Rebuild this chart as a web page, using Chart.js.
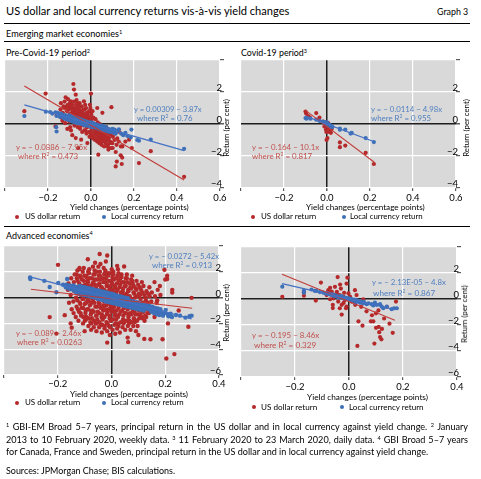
<!DOCTYPE html>
<html>
<head>
<meta charset="utf-8">
<script src="https://cdn.jsdelivr.net/npm/chart.js@4.4.1/dist/chart.umd.min.js"></script>
<style>
  body { margin: 0; background: #fff; font-family: Lato, sans-serif; color: #000; }
  #page { position: relative; width: 481px; height: 479px; overflow: hidden; }
  .t { position: absolute; white-space: nowrap; line-height: 1; transform: translateY(-50%); font-size: 10px; }
  .rot { position: absolute; white-space: nowrap; line-height: 1; font-size: 9.5px; transform: translate(-50%, -50%) rotate(-90deg); }
  .rule { position: absolute; left: 4px; width: 466px; height: 0; border-top: 1px solid #000; }
  .dot { position: absolute; width: 4px; height: 4px; border-radius: 50%; transform: translate(-50%, -50%); }
  .fn { position: absolute; left: 6px; width: 462px; white-space: nowrap; line-height: 1; transform: translateY(-50%); font-size: 9px; }
  .just { text-align: justify; text-align-last: justify; white-space: normal; }
  sup { font-size: 62%; vertical-align: 0.55em; line-height: 0; }
  .blue { color: #4f7fbf; }
  .red { color: #c0504d; }
  canvas { position: absolute; }
</style>
</head>
<body>
<div id="page">
  <div class="t" data-w="284" style="left:6px;top:11px;font-size:12px">US dollar and local currency returns vis-à-vis yield changes</div>
  <div class="t" data-w="31" style="left:437px;top:12px">Graph 3</div>
  <div class="rule" style="top:23px"></div>
  <div class="t" data-w="116" style="left:6px;top:34px">Emerging market economies<sup>1</sup></div>
  <div class="rule" style="top:41px"></div>
  <div class="t" data-w="84" style="left:6px;top:53px">Pre-Covid-19 period<sup>2</sup></div>
  <div class="t" data-w="66" style="left:241px;top:53px">Covid-19 period<sup>3</sup></div>
  <div class="rule" style="top:226px"></div>
  <div class="t" data-w="87" style="left:6px;top:236px">Advanced economies<sup>4</sup></div>

  <canvas id="c1" width="240" height="148" style="left:0;top:56px"></canvas>
  <canvas id="c2" width="240" height="148" style="left:236px;top:56px"></canvas>
  <canvas id="c3" width="240" height="150" style="left:0;top:240px"></canvas>
  <canvas id="c4" width="240" height="152" style="left:236px;top:240px"></canvas>

  <!-- regression labels -->
  <div class="t blue" data-w="68" style="left:134px;top:110px">y = 0.00309 − 3.87x</div>
  <div class="t blue" data-w="56" style="left:137px;top:119px">where R<sup>2</sup> = 0.76</div>
  <div class="t red" data-w="71" style="left:16px;top:148px">y = − 0.0886 − 7.95x</div>
  <div class="t red" data-w="60" style="left:18px;top:157px">where R<sup>2</sup> = 0.473</div>

  <div class="t blue" data-w="71" style="left:371px;top:110px">y = − 0.0114 − 4.98x</div>
  <div class="t blue" data-w="60" style="left:371px;top:119px">where R<sup>2</sup> = 0.955</div>
  <div class="t red" data-w="67" style="left:252px;top:148px">y = − 0.164 − 10.1x</div>
  <div class="t red" data-w="60" style="left:252px;top:157px">where R<sup>2</sup> = 0.817</div>

  <div class="t blue" data-w="70" style="left:149px;top:257px">y = − 0.0272 − 5.42x</div>
  <div class="t blue" data-w="60" style="left:152px;top:266px">where R<sup>2</sup> = 0.913</div>
  <div class="t red" data-w="65" style="left:16px;top:334px">y = − 0.089 − 2.46x</div>
  <div class="t red" data-w="65" style="left:17px;top:343px">where R<sup>2</sup> = 0.0263</div>

  <div class="t blue" data-w="74" style="left:372px;top:283px">y = − 2.13E-05 − 4.8x</div>
  <div class="t blue" data-w="62" style="left:373px;top:293px">where R<sup>2</sup> = 0.867</div>
  <div class="t red" data-w="67" style="left:252px;top:336px">y = − 0.195 − 8.46x</div>
  <div class="t red" data-w="62" style="left:254px;top:345px">where R<sup>2</sup> = 0.329</div>

  <!-- axis titles -->
  <div class="t" data-w="119" style="left:70px;top:207px">Yield changes (percentage points)</div>
  <div class="t" data-w="119" style="left:306px;top:207px">Yield changes (percentage points)</div>
  <div class="t" data-w="118" style="left:70px;top:394px">Yield changes (percentage points)</div>
  <div class="t" data-w="121" style="left:307px;top:397px">Yield changes (percentage points)</div>
  <div class="rot" data-w="58" style="left:227px;top:128px">Return (per cent)</div>
  <div class="rot" data-w="58" style="left:467px;top:128px">Return (per cent)</div>
  <div class="rot" data-w="58" style="left:227px;top:313px">Return (per cent)</div>
  <div class="rot" data-w="58" style="left:465px;top:314px">Return (per cent)</div>

  <!-- legends -->
  <i class="dot" style="left:17px;top:217px;background:#b5292b"></i>
  <div class="t" data-w="55" style="left:25px;top:217px">US dollar return</div>
  <i class="dot" style="left:104px;top:217px;background:#3d70b8"></i>
  <div class="t" data-w="73" style="left:111px;top:217px">Local currency return</div>

  <i class="dot" style="left:253px;top:217px;background:#b5292b"></i>
  <div class="t" data-w="55" style="left:261px;top:217px">US dollar return</div>
  <i class="dot" style="left:344px;top:217px;background:#3d70b8"></i>
  <div class="t" data-w="73" style="left:350px;top:217px">Local currency return</div>

  <i class="dot" style="left:17px;top:403px;background:#b5292b"></i>
  <div class="t" data-w="55" style="left:25px;top:403px">US dollar return</div>
  <i class="dot" style="left:104px;top:403px;background:#3d70b8"></i>
  <div class="t" data-w="73" style="left:111px;top:403px">Local currency return</div>

  <i class="dot" style="left:254px;top:407px;background:#b5292b"></i>
  <div class="t" data-w="56" style="left:261px;top:407px">US dollar return</div>
  <i class="dot" style="left:342px;top:407px;background:#3d70b8"></i>
  <div class="t" data-w="75" style="left:349px;top:407px">Local currency return</div>

  <!-- footnotes -->
  <div class="fn just" style="top:427px"><sup>1</sup> GBI-EM Broad 5–7 years, principal return in the US dollar and in local currency against yield change. <sup>2</sup> January</div>
  <div class="fn just" style="top:440px">2013 to 10 February 2020, weekly data. <sup>3</sup> 11 February 2020 to 23 March 2020, daily data. <sup>4</sup> GBI Broad 5–7 years</div>
  <div class="fn" id="fn3" data-w="422" style="top:452px;width:auto">for Canada, France and Sweden, principal return in the US dollar and in local currency against yield change.</div>
  <div class="fn" data-w="169" style="top:471px;width:auto">Sources: JPMorgan Chase; BIS calculations.</div>
</div>

<script>
// Emerging markets, pre-Covid-19 (weekly), [yield change, return]
const emPreUsd = [
  [-0.31,0.8],[-0.211,1.9],[-0.118,1.67],[-0.082,2.5],[-0.079,2.15],[-0.071,1.83],[0.0,1.9],[0.095,1.05],
  [0.053,0.7],[0.029,1.0],[-0.113,1.1],[-0.094,1.42],[-0.033,1.42],[-0.005,1.2],[-0.11,-0.31],[-0.087,-0.7],
  [-0.071,-0.88],[-0.046,-0.98],[-0.06,-1.5],[-0.017,-1.19],[0.034,-1.92],[0.045,-1.19],[0.06,-0.88],[0.077,-1.4],
  [0.092,-1.5],[0.115,-1.75],[0.138,-1.96],[0.145,-2.1],[0.143,-2.5],[0.115,-2.65],[0.19,-1.5],[0.223,-2.44],
  [0.278,-1.7],[0.433,-3.3],[0.177,-0.98],[0.146,-1.4],[0.092,-0.67],[-0.165,-0.15],[-0.16,0.55],[0.12,-2.35],[0.16,-1.1],
  [-0.142,0.9],[-0.138,0.4],[-0.14,1.3],[-0.131,0.7],[-0.128,1.1],[-0.133,0.2],
  [-0.121,1.0],[-0.118,0.5],[-0.123,1.4],[-0.12,0.05],[-0.111,0.8],[-0.108,1.2],[-0.112,0.3],[-0.107,1.55],
  [-0.1,0.6],[-0.103,1.0],[-0.098,1.3],[-0.101,0.15],[-0.097,-0.2],
  [-0.091,0.4],[-0.088,0.9],[-0.092,1.2],[-0.089,0.7],[-0.093,-0.4],
  [-0.081,0.2],[-0.078,0.6],[-0.082,1.0],[-0.079,1.4],[-0.083,0.8],[-0.077,-0.1],
  [-0.071,0.0],[-0.068,0.5],[-0.072,0.9],[-0.069,1.2],[-0.073,0.3],[-0.067,1.5],
  [-0.061,-0.2],[-0.058,0.3],[-0.062,0.7],[-0.059,1.1],[-0.063,0.5],[-0.057,0.9],
  [-0.051,-0.3],[-0.048,0.1],[-0.052,0.5],[-0.049,0.8],[-0.053,1.3],[-0.047,0.3],
  [-0.041,-0.5],[-0.038,0.0],[-0.042,0.4],[-0.039,0.7],[-0.043,1.1],[-0.037,0.2],
  [-0.031,-0.4],[-0.028,0.2],[-0.032,0.6],[-0.029,0.9],[-0.033,-0.1],[-0.027,1.2],
  [-0.021,-0.6],[-0.018,-0.2],[-0.022,0.3],[-0.019,0.7],[-0.023,1.0],[-0.017,0.1],
  [-0.011,-0.5],[-0.008,-0.1],[-0.012,0.4],[-0.009,0.8],[-0.013,0.0],[-0.007,-0.8],
  [-0.001,-0.7],[0.002,-0.3],[-0.002,0.2],[0.001,0.6],[0.003,-0.1],[-0.003,1.0],
  [0.009,-0.9],[0.012,-0.5],[0.008,0.0],[0.011,0.4],[0.013,-0.2],[0.007,0.8],
  [0.019,-1.0],[0.022,-0.6],[0.018,-0.2],[0.021,0.3],[0.023,-0.4],
  [0.029,-1.1],[0.032,-0.7],[0.028,-0.3],[0.031,0.1],[0.033,-0.9],
  [0.039,-1.2],[0.042,-0.8],[0.038,-0.5],[0.041,0.0],[0.043,-0.3],
  [0.049,-1.3],[0.052,-0.9],[0.048,-0.6],[0.051,-0.2],[0.053,-1.1],
  [0.059,-1.0],[0.062,-0.7],[0.058,-0.3],[0.061,-1.4],
  [0.069,-1.2],[0.072,-0.8],[0.068,-0.5],[0.071,-0.2],
  [0.079,-1.3],[0.082,-0.9],[0.078,-0.6],[0.081,-1.6],
  [0.089,-1.1],[0.092,-0.7],[0.088,-0.4],
  [0.099,-1.2],[0.102,-0.8],[0.098,-0.5],[0.101,-1.5],
  [0.109,-1.0],[0.112,-0.6],[0.119,-1.3],[0.122,-0.9],[0.129,-1.1],[0.132,-0.5],[0.139,-1.4],
  [-0.105,0.4],[-0.104,0.9],[-0.095,0.6],[-0.096,1.1],[-0.085,0.4],[-0.086,1.2],[-0.075,0.7],[-0.074,1.0],
  [-0.065,0.1],[-0.066,0.9],[-0.064,1.3],[-0.055,0.6],[-0.056,1.0],[-0.045,0.6],[-0.046,-0.1],[-0.035,0.5],
  [-0.036,0.9],[-0.025,0.4],[-0.026,-0.4],[-0.015,0.2],[-0.016,0.6],[-0.005,-0.5],[-0.006,0.4],[0.005,-0.7],
  [0.004,0.3],[0.015,-0.8],[0.016,-0.3],[0.025,-0.5],[0.026,-0.9],[0.035,-0.5],[0.036,-1.0],[0.045,-0.7],
  [0.046,-1.0],[0.055,-0.5],[0.056,-0.8],[0.065,-1.1],[0.066,-0.6],[0.075,-1.0],[0.085,-0.8],[0.086,-1.2]
];
const emPreLocal = [
  [-0.31,0.5],[-0.21,0.77],[-0.165,0.73],[-0.162,-0.2],[-0.16,-0.47],[0.13,-0.33],[0.169,-0.75],[0.185,-0.83],
  [0.188,-0.35],[0.215,-1.0],[0.223,-1.04],[0.278,-0.97],[0.433,-1.55],[0.15,-0.7],[0.16,-0.55],[0.14,-0.6],
  [-0.19,0.75],[-0.18,0.65],
  [-0.16,0.5],[-0.155,0.7],[-0.15,0.55],[-0.145,0.45],[-0.14,0.65],[-0.135,0.6],[-0.13,0.4],[-0.13,0.5],
  [-0.125,0.35],[-0.12,0.55],[-0.12,0.45],[-0.115,0.3],[-0.11,0.5],[-0.11,0.4],[-0.105,0.25],[-0.1,0.45],
  [-0.1,0.35],[-0.1,0.55],[-0.095,0.2],[-0.09,0.4],[-0.09,0.3],[-0.09,0.5],[-0.085,0.15],[-0.08,0.35],
  [-0.08,0.25],[-0.08,0.45],[-0.075,0.1],[-0.07,0.3],[-0.07,0.2],[-0.07,0.4],[-0.065,0.05],[-0.06,0.25],
  [-0.06,0.15],[-0.06,0.35],[-0.055,0.05],[-0.05,0.2],[-0.05,0.3],[-0.05,0.1],[-0.045,0.0],[-0.04,0.15],
  [-0.04,0.25],[-0.04,0.05],[-0.035,-0.05],[-0.03,0.1],[-0.03,0.2],[-0.03,0.05],[-0.025,-0.1],[-0.02,0.05],
  [-0.02,0.15],[-0.02,0.0],[-0.015,-0.1],[-0.01,0.0],[-0.01,0.1],[-0.01,0.05],[-0.005,-0.15],[0.0,-0.05],
  [0.0,0.05],[0.0,0.1],[0.005,-0.2],[0.01,-0.1],[0.01,0.0],[0.01,0.05],[0.015,-0.2],[0.02,-0.1],
  [0.02,0.0],[0.025,-0.25],[0.03,-0.15],[0.03,-0.05],[0.035,-0.3],[0.04,-0.2],[0.04,-0.1],[0.045,-0.35],
  [0.05,-0.2],[0.05,-0.1],[0.055,-0.4],[0.06,-0.25],[0.06,-0.15],[0.065,-0.4],[0.07,-0.3],[0.07,-0.2],
  [0.075,-0.45],[0.08,-0.3],[0.085,-0.5],[0.09,-0.35],[0.095,-0.5],[0.1,-0.3],[0.105,-0.55],[0.11,-0.35],
  [0.115,-0.6],[0.12,-0.45]
];
const emPreUsdFit = [[-0.31, 2.37], [0.433, -3.5]];
const emPreLocalFit = [[-0.31, 1.19], [0.433, -1.67]];

// Emerging markets, Covid-19 (daily)
const emCovUsd = [
  [-0.1,0.78],[-0.097,0.65],[-0.088,0.5],[-0.08,0.42],[-0.05,0.68],[-0.035,0.4],[-0.017,0.15],[-0.005,0.12],
  [-0.012,-0.15],[-0.005,-0.35],[0.002,-0.2],[0.014,-0.35],[0.022,-0.3],[-0.003,-0.5],[0.01,-0.5],[0.018,-0.55],
  [0.002,-0.88],[-0.002,-1.0],[0.006,0.05],[0.012,-0.1],[0.06,-1.15],[0.06,-1.45],[0.085,-1.35],[0.18,-1.8],[0.218,-2.5]
];
const emCovLocal = [
  [-0.1,0.37],[-0.095,0.33],[-0.077,0.33],[-0.05,0.27],[-0.035,0.2],[-0.02,0.15],[-0.01,0.12],[-0.005,0.05],
  [0.0,0.1],[0.0,-0.02],[0.005,0.0],[0.008,-0.08],[0.012,-0.05],[0.015,-0.15],[0.003,-0.1],[-0.008,0.0],
  [0.018,-0.1],[0.02,-0.2],[0.025,-0.18],[0.06,-0.28],[0.06,-0.36],[0.085,-0.35],[0.115,-0.56],[0.11,-0.6],
  [0.18,-0.88],[0.218,-1.13]
];
const emCovUsdFit = [[-0.1, 0.85], [0.22, -2.39]];
const emCovLocalFit = [[-0.1, 0.49], [0.22, -1.11]];

// Advanced economies, pre-Covid-19 (weekly)
const aePreUsd = [
  [-0.199,2.54],[-0.23,-1.51],[-0.205,-2.79],[-0.152,-2.0],[-0.174,-1.36],[-0.148,-2.33],[0.207,1.69],[0.207,1.44],
  [0.226,0.6],[0.226,0.4],[0.298,-0.02],[0.286,-2.26],[0.234,-4.38],[0.204,-4.72],[0.19,-3.23],[0.145,-3.23],
  [0.122,-3.2],[0.06,-3.1],[0.062,-3.45],[-0.016,-3.49],[-0.088,2.97],[-0.044,3.38],[-0.016,3.26],[0.021,2.46],
  [0.047,2.41],[0.197,2.15],[0.2,1.4],[0.18,0.9],[0.17,-0.2],[0.16,1.2],[0.25,-1.0],[0.21,-2.0],[0.1,-2.9],
  [-0.1,-2.6],[-0.12,2.2],[-0.13,1.8],
  [-0.162,0.6],[-0.158,-0.4],[-0.16,1.1],
  [-0.152,0.2],[-0.148,-0.9],[-0.15,1.5],[-0.153,0.9],
  [-0.142,-0.3],[-0.138,0.5],[-0.14,1.2],[-0.141,-1.2],[-0.137,1.8],
  [-0.132,0.0],[-0.128,0.8],[-0.13,-0.7],[-0.129,1.5],[-0.133,-1.5],[-0.127,2.1],
  [-0.122,0.3],[-0.118,-0.4],[-0.12,1.1],[-0.121,-1.1],[-0.117,1.7],[-0.123,-1.8],[-0.119,2.3],
  [-0.112,0.6],[-0.108,-0.1],[-0.11,1.4],[-0.111,-0.8],[-0.107,2.0],[-0.113,-1.4],[-0.109,0.9],[-0.106,-2.0],
  [-0.102,0.2],[-0.098,1.0],[-0.1,-0.5],[-0.101,1.7],[-0.097,-1.2],[-0.103,2.3],[-0.099,-1.8],[-0.104,0.5],
  [-0.092,0.5],[-0.088,-0.2],[-0.09,1.3],[-0.091,-0.9],[-0.087,2.0],[-0.093,-1.5],[-0.089,0.9],[-0.086,-2.2],[-0.094,1.6],
  [-0.082,0.1],[-0.078,0.8],[-0.08,-0.6],[-0.081,1.5],[-0.077,-1.3],[-0.083,2.2],[-0.079,-1.9],[-0.084,0.4],[-0.076,-2.5],
  [-0.072,0.4],[-0.068,-0.3],[-0.07,1.1],[-0.071,-1.0],[-0.067,1.8],[-0.073,-1.6],[-0.069,2.4],[-0.074,0.7],[-0.066,-2.3],[-0.072,-0.05],
  [-0.062,0.0],[-0.058,0.7],[-0.06,-0.7],[-0.061,1.4],[-0.057,-1.4],[-0.063,2.1],[-0.059,-2.0],[-0.064,1.0],[-0.056,-2.6],[-0.061,2.7],
  [-0.052,0.3],[-0.048,-0.4],[-0.05,1.0],[-0.051,-1.1],[-0.047,1.7],[-0.053,-1.7],[-0.049,2.4],[-0.054,0.6],[-0.046,-2.3],[-0.05,-0.1],
  [-0.042,0.0],[-0.038,0.8],[-0.04,-0.8],[-0.041,1.4],[-0.037,-1.5],[-0.043,2.0],[-0.039,-2.1],[-0.044,1.1],[-0.036,-2.7],[-0.041,2.6],
  [-0.032,0.4],[-0.028,-0.3],[-0.03,1.2],[-0.031,-1.0],[-0.027,1.8],[-0.033,-1.7],[-0.029,2.3],[-0.034,0.7],[-0.026,-2.4],[-0.03,-0.6],
  [-0.022,0.1],[-0.018,0.9],[-0.02,-0.6],[-0.021,1.5],[-0.017,-1.3],[-0.023,2.1],[-0.019,-1.9],[-0.024,0.5],[-0.016,-2.6],[-0.021,2.8],
  [-0.012,-0.2],[-0.008,0.6],[-0.01,-0.9],[-0.011,1.3],[-0.007,-1.6],[-0.013,1.9],[-0.009,-2.2],[-0.014,0.9],[-0.006,-2.9],[-0.011,0.2],
  [-0.002,0.3],[0.002,-0.4],[0.0,1.0],[-0.001,-1.1],[0.003,1.6],[-0.003,-1.8],[0.001,2.2],[-0.004,0.6],[0.004,-2.5],[0.0,-0.8],
  [0.008,0.0],[0.012,0.8],[0.01,-0.7],[0.009,1.4],[0.013,-1.4],[0.007,2.0],[0.011,-2.1],[0.006,0.4],[0.014,-2.8],[0.01,-1.1],
  [0.018,0.4],[0.022,-0.3],[0.02,1.1],[0.019,-1.0],[0.023,1.7],[0.017,-1.7],[0.021,-2.4],[0.016,0.7],[0.024,2.2],
  [0.028,0.1],[0.032,-0.6],[0.03,0.8],[0.029,-1.3],[0.033,1.5],[0.027,-2.0],[0.031,-2.7],[0.026,1.9],[0.034,-0.2],
  [0.038,-0.3],[0.042,0.5],[0.04,-1.0],[0.039,1.2],[0.043,-1.7],[0.037,1.8],[0.041,-2.3],[0.036,0.2],[0.044,-0.6],
  [0.048,0.2],[0.052,-0.5],[0.05,0.9],[0.049,-1.2],[0.053,1.5],[0.047,-1.9],[0.051,-2.5],[0.046,-0.1],
  [0.058,-0.2],[0.062,0.6],[0.06,-0.9],[0.059,1.2],[0.063,-1.5],[0.057,1.8],[0.061,-2.2],[0.056,0.3],
  [0.068,0.1],[0.072,-0.6],[0.07,0.8],[0.069,-1.2],[0.073,1.4],[0.067,-1.8],[0.071,-2.5],[0.066,-0.3],
  [0.078,-0.3],[0.082,0.4],[0.08,-1.0],[0.079,1.1],[0.083,-1.6],[0.077,1.7],[0.081,-2.2],
  [0.088,0.0],[0.092,-0.7],[0.09,0.7],[0.089,-1.3],[0.093,1.3],[0.087,-1.9],[0.091,-2.6],
  [0.098,-0.4],[0.102,0.3],[0.1,-1.0],[0.099,1.0],[0.103,-1.6],[0.097,-2.2],
  [0.108,-0.1],[0.112,-0.8],[0.11,0.6],[0.109,-1.4],[0.113,1.2],
  [0.118,-0.5],[0.122,0.2],[0.12,-1.1],[0.119,0.9],[0.123,-1.8],
  [0.128,-0.2],[0.132,-0.9],[0.13,0.5],[0.129,-1.5],
  [0.138,-0.6],[0.142,0.1],[0.14,-1.2],[0.141,0.8],
  [0.148,-0.3],[0.152,-1.0],[0.15,0.4],[0.158,-0.8],[0.162,0.1],[0.16,-1.5],
  [0.168,-0.4],[0.172,0.6],[0.178,-1.1],[0.182,0.2],
  [-0.125,-0.9],[-0.127,-0.2],[-0.124,0.5],[-0.126,1.3],
  [-0.115,-1.2],[-0.116,-0.5],[-0.114,0.2],[-0.117,0.9],[-0.115,1.6],
  [-0.105,-1.5],[-0.106,-0.8],[-0.104,-0.1],[-0.105,0.7],[-0.103,1.3],
  [-0.095,-1.7],[-0.096,-1.0],[-0.094,-0.4],[-0.095,0.3],[-0.097,1.0],[-0.093,1.7],
  [-0.085,-1.6],[-0.086,-0.9],[-0.084,-0.3],[-0.085,0.5],[-0.087,1.2],[-0.083,1.9],
  [-0.075,-2.0],[-0.076,-1.1],[-0.074,-0.4],[-0.075,0.2],[-0.077,0.9],[-0.073,1.5],
  [-0.065,-1.8],[-0.066,-1.1],[-0.064,-0.4],[-0.065,0.4],[-0.067,1.2],[-0.063,1.8],
  [-0.055,-2.0],[-0.056,-1.4],[-0.054,-0.7],[-0.055,0.0],[-0.057,0.7],[-0.053,1.4],[-0.055,2.0],
  [-0.045,-1.9],[-0.046,-1.2],[-0.044,-0.5],[-0.045,0.3],[-0.047,1.0],[-0.043,1.7],
  [-0.035,-2.1],[-0.036,-1.3],[-0.034,-0.8],[-0.035,0.0],[-0.037,0.8],[-0.033,1.5],
  [-0.025,-2.2],[-0.026,-1.5],[-0.024,-0.9],[-0.025,-0.2],[-0.027,0.6],[-0.023,1.2],[-0.025,1.9],
  [-0.015,-2.0],[-0.016,-1.1],[-0.014,-0.4],[-0.015,0.4],[-0.017,1.0],[-0.013,1.7],
  [-0.005,-2.3],[-0.006,-1.4],[-0.004,-0.6],[-0.005,0.0],[-0.007,0.8],[-0.003,1.3],[-0.005,1.9],
  [0.005,-1.7],[0.004,-0.9],[0.006,-0.2],[0.005,0.6],[0.003,1.1],[0.007,1.8],
  [0.015,-2.0],[0.014,-1.3],[0.016,-0.5],[0.015,0.1],[0.013,0.9],[0.017,1.5],
  [0.025,-2.2],[0.024,-1.5],[0.026,-0.8],[0.025,-0.1],[0.023,0.6],[0.027,1.3],
  [0.035,-1.9],[0.034,-1.1],[0.036,-0.4],[0.035,0.4],[0.033,1.0],[0.037,1.6],
  [0.045,-2.0],[0.044,-1.4],[0.046,-0.8],[0.045,0.0],[0.043,0.7],[0.047,1.2],
  [0.055,-1.8],[0.054,-1.2],[0.056,-0.5],[0.055,0.2],[0.053,0.9],[0.057,1.5],
  [0.065,-2.0],[0.064,-1.4],[0.066,-0.7],[0.065,0.0],[0.063,0.5],[0.067,1.1],
  [0.075,-1.9],[0.074,-1.3],[0.076,-0.8],[0.075,-0.1],[0.073,0.7],[0.077,1.3],
  [0.085,-1.7],[0.084,-1.1],[0.086,-0.5],[0.085,0.3],[0.083,0.9],
  [0.095,-1.8],[0.094,-1.3],[0.096,-0.7],[0.095,0.1],[0.093,0.6],
  [0.105,-1.3],[0.104,-0.6],[0.106,0.2],[0.105,0.8],
  [0.115,-1.6],[0.114,-1.1],[0.116,-0.4],[0.115,0.4],
  [0.125,-1.4],[0.124,-0.8],[0.126,0.0],[0.135,-1.2],[0.134,-0.4],[0.136,0.3]
];
const aePreLocal = [
  [-0.303,1.56],[-0.302,1.44],[-0.23,0.82],[-0.205,0.41],[-0.198,1.13],[-0.165,1.44],[-0.18,1.0],[-0.25,1.3],
  [-0.17,0.8],[-0.168,1.0],[-0.16,0.7],[-0.158,0.95],[-0.162,0.85],[-0.15,0.65],[-0.148,0.9],[-0.152,0.75],
  [-0.14,0.55],[-0.138,0.85],[-0.142,0.7],[-0.141,0.95],[-0.13,0.5],[-0.128,0.8],[-0.132,0.65],[-0.131,0.35],
  [-0.12,0.45],[-0.118,0.75],[-0.122,0.6],[-0.121,0.3],[-0.119,0.9],[-0.11,0.4],[-0.108,0.7],[-0.112,0.55],
  [-0.111,0.25],[-0.109,0.85],[-0.1,0.35],[-0.098,0.65],[-0.102,0.5],[-0.101,0.2],[-0.099,0.8],
  [-0.09,0.3],[-0.088,0.6],[-0.092,0.45],[-0.091,0.15],[-0.089,0.75],[-0.08,0.25],[-0.078,0.55],[-0.082,0.4],
  [-0.081,0.1],[-0.079,0.7],[-0.07,0.2],[-0.068,0.5],[-0.072,0.35],[-0.071,0.05],[-0.069,0.65],
  [-0.06,0.15],[-0.058,0.45],[-0.062,0.3],[-0.061,0.0],[-0.059,0.6],[-0.05,0.1],[-0.048,0.4],[-0.052,0.25],
  [-0.051,-0.1],[-0.049,0.55],[-0.04,0.05],[-0.038,0.35],[-0.042,0.2],[-0.041,-0.15],[-0.039,0.5],
  [-0.03,0.0],[-0.028,0.3],[-0.032,0.15],[-0.031,-0.2],[-0.029,0.45],[-0.02,-0.05],[-0.018,0.25],[-0.022,0.1],
  [-0.021,-0.3],[-0.019,0.4],[-0.01,-0.1],[-0.008,0.2],[-0.012,0.05],[-0.011,-0.35],[-0.009,0.35],
  [0.0,-0.15],[0.002,0.15],[-0.002,0.0],[-0.001,-0.4],[0.001,0.3],[0.01,-0.2],[0.012,0.1],[0.008,-0.05],
  [0.009,-0.45],[0.011,0.25],[0.02,-0.3],[0.022,0.0],[0.018,-0.15],[0.019,-0.5],[0.021,0.15],
  [0.03,-0.35],[0.032,-0.05],[0.028,-0.2],[0.029,-0.55],[0.031,0.1],[0.04,-0.4],[0.042,-0.1],[0.038,-0.25],
  [0.039,-0.6],[0.041,0.05],[0.05,-0.45],[0.052,-0.15],[0.048,-0.3],[0.049,-0.65],[0.051,0.0],
  [0.06,-0.5],[0.062,-0.2],[0.058,-0.35],[0.059,-0.7],[0.061,-0.05],[0.07,-0.55],[0.072,-0.25],[0.068,-0.4],
  [0.069,-0.75],[0.08,-0.6],[0.082,-0.3],[0.078,-0.45],[0.079,-0.8],[0.09,-0.65],[0.092,-0.35],[0.088,-0.5],
  [0.089,-0.85],[0.1,-0.7],[0.102,-0.4],[0.098,-0.55],[0.099,-0.9],[0.11,-0.75],[0.112,-0.5],[0.108,-0.6],
  [0.109,-0.95],[0.12,-0.8],[0.122,-0.55],[0.118,-0.7],[0.119,-1.0],[0.13,-0.85],[0.132,-0.6],[0.128,-0.75],
  [0.14,-0.9],[0.142,-0.65],[0.138,-0.8],[0.15,-0.95],[0.152,-0.7],[0.148,-1.1],[0.16,-1.0],[0.162,-0.8],
  [0.158,-1.2],[0.17,-1.05],[0.172,-0.85],[0.168,-1.3],[0.18,-1.1],[0.182,-0.9],[0.178,-1.35],
  [0.19,-1.15],[0.192,-1.4],[0.2,-1.2],[0.202,-0.95],[0.21,-1.3],[0.212,-1.45],[0.22,-1.25],[0.225,-1.5],
  [0.24,-1.35],[0.255,-1.4],[0.275,-1.55],[0.29,-1.45],[0.298,-1.4]
];
const aePreUsdFit = [[-0.3, 0.65], [0.3, -0.83]];
const aePreLocalFit = [[-0.303, 1.6], [0.298, -1.64]];

// Advanced economies, Covid-19 (daily)
const aeCovUsd = [
  [-0.247,0.17],[-0.167,0.52],[-0.167,0.25],[-0.123,-0.12],[-0.104,1.26],[-0.07,0.86],[-0.07,-0.02],[-0.06,-0.45],
  [-0.06,-0.7],[-0.042,1.69],[-0.033,1.11],[-0.03,0.8],[-0.045,0.55],[-0.009,1.19],[-0.006,1.64],[-0.027,-1.2],
  [-0.02,-0.3],[-0.011,-0.71],[0.022,0.68],[0.028,0.3],[0.035,-1.72],[0.031,-3.61],[0.053,-0.02],[0.05,-2.05],
  [0.081,-1.72],[0.09,-1.72],[0.094,-3.43],[0.1,-2.22],[0.11,-2.15],[0.112,-2.55],[0.115,-2.93],[0.12,-3.1],
  [0.122,-2.3],[0.162,-2.6],[0.174,-0.2],[0.109,-0.88],[0.1,-1.1],
  [-0.046,0.43],[-0.034,0.3],[-0.021,0.18],[-0.015,-0.08],[-0.002,0.43],[0.004,0.18],[0.01,-0.2],[-0.027,-0.45],
  [-0.009,-0.58],[-0.034,-0.71],[-0.04,-0.2],[0.017,-0.08],[0.023,-0.45],[-0.018,0.48],[-0.058,0.05],[-0.064,0.56],
  [-0.052,0.94],[-0.077,0.68],[-0.083,0.3],[0.045,-0.6],[0.065,-0.95],[0.085,-1.25],[0.14,-0.6],[0.13,-1.5],[0.15,-1.9]
];
const aeCovLocal = [
  [-0.247,0.95],[-0.167,0.48],[-0.167,0.65],[-0.139,0.73],[-0.127,0.63],[-0.108,0.53],[-0.094,0.48],[-0.081,0.43],
  [-0.069,0.35],[-0.057,0.3],[-0.12,0.62],[-0.095,0.5],[-0.085,0.42],[-0.075,0.38],[-0.065,0.3],[-0.06,0.35],
  [-0.055,0.22],[-0.05,0.28],[-0.045,0.2],[-0.04,0.12],[-0.035,0.2],[-0.03,0.1],[-0.025,0.15],[-0.02,0.05],
  [-0.015,0.1],[-0.01,0.0],[-0.005,0.05],[0.0,-0.05],[0.0,0.05],[0.005,-0.05],[0.01,-0.1],[0.01,0.0],
  [0.015,-0.1],[0.02,-0.15],[0.02,-0.05],[0.025,-0.1],[0.03,-0.2],[0.035,-0.15],[0.04,-0.25],[0.045,-0.2],
  [0.05,-0.3],[0.055,-0.2],[0.022,-0.2],[0.028,-0.08],[-0.012,0.08],[-0.028,0.22],[0.023,-0.3],
  [0.041,-0.28],[0.053,-0.33],[0.072,-0.33],[0.084,-0.4],[0.096,-0.28],[0.102,-0.45],[0.115,-0.4],[0.121,-0.58],
  [0.127,-0.71],[0.14,-0.58],[0.158,-0.78],[0.167,-0.71],[0.177,-0.71],[0.065,-0.4],[0.09,-0.5]
];
const aeCovUsdFit = [[-0.248, 1.9], [0.17, -1.63]];
const aeCovLocalFit = [[-0.248, 1.19], [0.17, -0.82]];

const RED = '#b5292b';
const BLUE = '#3d70b8';
const RED_LINE = '#c23b38';
const BLUE_LINE = '#4472c4';
const TICK_FONT = { family: 'Lato', size: 9.5 };

const plotBg = {
  id: 'plotBg',
  beforeDraw(chart) {
    const { ctx, chartArea: a } = chart;
    ctx.save();
    ctx.fillStyle = '#d9d9d9';
    ctx.fillRect(a.left, a.top, a.right - a.left, a.bottom - a.top);
    ctx.restore();
  }
};

function pts(arr) {
  return arr.map(p => ({ x: p[0], y: p[1] }));
}

function isZero(v) {
  return Math.abs(v) < 1e-9;
}

function gridColor(c) {
  return c.tick && isZero(c.tick.value) ? '#1e1e1e' : '#ffffff';
}

function gridWidth(c) {
  return c.tick && isZero(c.tick.value) ? 1.5 : 1.2;
}

function makePanel(id, box, area, xr, yr, usd, local, usdFit, localFit, xPad, dotR) {
  new Chart(document.getElementById(id), {
    type: 'scatter',
    data: {
      datasets: [
        { label: 'US dollar return', data: pts(usd), backgroundColor: RED, pointRadius: dotR, borderWidth: 0, order: 3 },
        { label: 'Local currency return', data: pts(local), backgroundColor: BLUE, pointRadius: dotR, borderWidth: 0, order: 2 },
        { data: pts(usdFit), showLine: true, borderColor: RED_LINE, borderWidth: 1.1, pointRadius: 0, order: 1 },
        { data: pts(localFit), showLine: true, borderColor: BLUE_LINE, borderWidth: 1.3, pointRadius: 0, order: 0 }
      ]
    },
    options: {
      responsive: false,
      animation: false,
      events: [],
      layout: { padding: { left: area.left - box.left, top: area.top - box.top, right: 0, bottom: 0 } },
      plugins: { legend: { display: false }, tooltip: { enabled: false } },
      scales: {
        x: {
          type: 'linear',
          min: xr[0],
          max: xr[1],
          border: { display: false },
          grid: { color: gridColor, lineWidth: gridWidth, tickColor: '#5a5a5a', tickLength: 3 },
          ticks: {
            stepSize: 0.2,
            padding: xPad,
            color: '#000',
            font: TICK_FONT,
            maxRotation: 0,
            callback: v => {
              if (Math.abs(v - xr[0]) < 1e-9) return '';
              const s = Math.abs(v).toFixed(1);
              return v < -1e-9 ? '\u2212' + s : s;
            }
          },
          afterFit: s => {
            s.height = box.top + box.h - area.bottom;
            s.paddingLeft = 0;
            s.paddingRight = 0;
          }
        },
        y: {
          type: 'linear',
          position: 'right',
          min: yr[0],
          max: yr[1],
          border: { display: false },
          grid: { color: gridColor, lineWidth: gridWidth, tickColor: '#5a5a5a', tickLength: 4 },
          ticks: {
            stepSize: 2,
            mirror: true,
            padding: 2,
            labelOffset: -4,
            color: '#000',
            font: TICK_FONT,
            callback: v => {
              if (v === yr[1]) return '';
              return v < 0 ? '\u2212' + Math.abs(v) : String(v);
            }
          },
          afterFit: s => {
            s.width = box.left + box.w - area.right;
            s.paddingTop = 0;
            s.paddingBottom = 0;
          }
        }
      }
    },
    plugins: [plotBg]
  });
}

makePanel('c1', { left: 0, top: 56, w: 240, h: 148 }, { left: 5, top: 60, right: 220, bottom: 188 },
  [-0.4, 0.6], [-4, 4], emPreUsd, emPreLocal, emPreUsdFit, emPreLocalFit, 1, 2.1);
makePanel('c2', { left: 236, top: 56, w: 240, h: 148 }, { left: 241, top: 60, right: 456, bottom: 188 },
  [-0.4, 0.6], [-4, 4], emCovUsd, emCovLocal, emCovUsdFit, emCovLocalFit, 1, 2.1);
makePanel('c3', { left: 0, top: 240, w: 240, h: 150 }, { left: 4, top: 246, right: 219, bottom: 375 },
  [-0.4, 0.4], [-6, 4], aePreUsd, aePreLocal, aePreUsdFit, aePreLocalFit, 0, 2.2);
makePanel('c4', { left: 236, top: 240, w: 240, h: 152 }, { left: 241, top: 247, right: 457, bottom: 377 },
  [-0.4, 0.4], [-6, 4], aeCovUsd, aeCovLocal, aeCovUsdFit, aeCovLocalFit, 1, 2.1);

// size the text to the widths it has in the original
function fitText() {
  document.querySelectorAll('[data-w]').forEach(el => {
    const w = el.offsetWidth;
    const fs = parseFloat(getComputedStyle(el).fontSize);
    el.style.fontSize = (fs * el.dataset.w / w).toFixed(2) + 'px';
  });
  const fs3 = getComputedStyle(document.getElementById('fn3')).fontSize;
  document.querySelectorAll('.fn.just').forEach(el => { el.style.fontSize = fs3; });
}
fitText();
</script>
</body>
</html>
